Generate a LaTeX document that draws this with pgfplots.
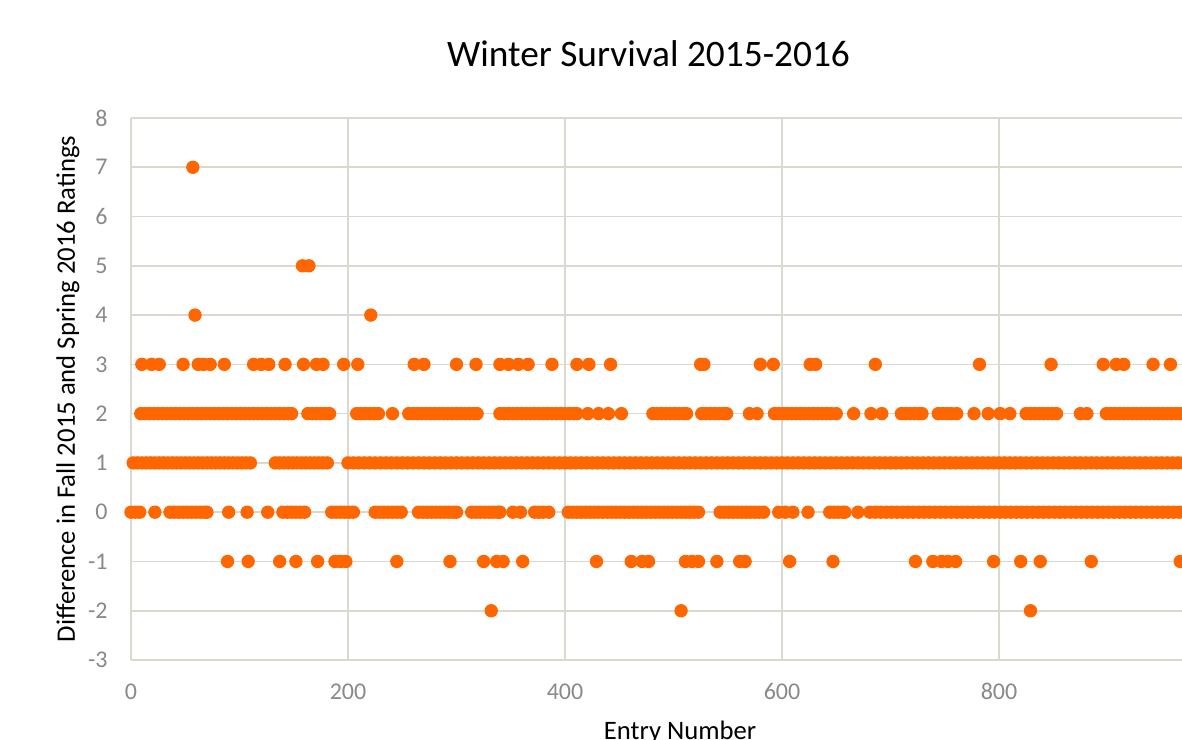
\documentclass[border=0pt]{standalone}
\usepackage{pgfplots}
\pgfplotsset{compat=1.18}
\usepackage{fontspec}
\setmainfont{Carlito}
\definecolor{dot}{RGB}{255,102,0}
\definecolor{gridc}{RGB}{217,217,207}
\definecolor{tickc}{RGB}{137,137,137}
\pgfplotsset{dotstyle/.style={draw=dot, fill=dot, only marks, mark=*, mark size=2.3pt}}
\begin{document}
\begin{tikzpicture}
\begin{axis}[
  at={(0,0)}, anchor=south west,
  scale only axis, width=394.125pt, height=203.25pt,
  xmin=0, xmax=968.66, ymin=-3, ymax=8,
  xtick={0,200,400,600,800}, xticklabels={0,200,400,600,800},
  ytick={-3,-2,-1,0,1,2,3,4,5,6,7,8}, yticklabels={-3,-2,-1,0,1,2,3,4,5,6,7,8},
  major tick length=0pt,
  axis line style={draw=none},
  grid=major, major grid style={draw=gridc, line width=0.6pt},
  ticklabel style={font=\fontsize{9}{11}\selectfont, text=tickc, inner sep=0pt},
  xticklabel style={anchor=north, yshift=-8.6pt},
  yticklabel style={anchor=east, xshift=-8.6pt},
  title={Winter Survival 2015-2016},
  title style={at={(axis description cs:0.4924,1.0664)}, anchor=base, font=\fontsize{14}{17}\selectfont, inner sep=0pt},
  xlabel={Entry Number},
  xlabel style={at={(axis description cs:0.5224,-0.1466)}, anchor=base, font=\fontsize{10}{12}\selectfont, inner sep=0pt},
  ylabel={Difference in Fall 2015 and Spring 2016 Ratings},
  ylabel style={at={(axis description cs:-0.0533,0.5)}, anchor=base, rotate=0, font=\fontsize{10}{12}\selectfont, inner sep=0pt},
  clip=false,
]
% y = 7, 5, 4
\addplot[dotstyle] coordinates {(57,7)(158,5)(164,5)(59,4)(221,4)};
% y = 3
\addplot[dotstyle] coordinates {(10,3)(19,3)(26,3)(48,3)(62,3)(67,3)(73,3)(86,3)(113,3)(120,3)(127,3)(142,3)(159,3)(171,3)(177,3)(196,3)(209,3)(261,3)(270,3)(300,3)(318,3)(340,3)(348,3)(357,3)(366,3)(388,3)(411,3)(422,3)(442,3)(525,3)(528,3)(580,3)(592,3)(626,3)(631,3)(686,3)(782,3)(848,3)(896,3)(908,3)(915,3)(942,3)(958,3)};
% y = 2
\addplot[dotstyle] coordinates {(9,2)(13,2)(17,2)(21,2)(25,2)(29,2)(33,2)(37,2)(41,2)(45,2)(49,2)(53,2)(57,2)(61,2)(65,2)(69,2)(73,2)(77,2)(81,2)(85,2)(89,2)(93,2)(97,2)(101,2)(105,2)(109,2)(113,2)(117,2)(121,2)(125,2)(129,2)(133,2)(137,2)(141,2)(145,2)(148,2)
(163,2)(167,2)(171,2)(175,2)(179,2)(183,2)
(208,2)(212,2)(216,2)(220,2)(224,2)(228,2)(241,2)
(256,2)(260,2)(264,2)(268,2)(272,2)(276,2)(280,2)(284,2)(288,2)(292,2)(296,2)(300,2)(304,2)(308,2)(312,2)(316,2)(319,2)
(340,2)(344,2)(348,2)(352,2)(356,2)(360,2)(364,2)(368,2)(372,2)(376,2)(380,2)(384,2)(388,2)(392,2)(396,2)(400,2)(404,2)(408,2)(411,2)
(421,2)(431,2)(440,2)(452,2)
(481,2)(485,2)(489,2)(493,2)(497,2)(501,2)(505,2)(509,2)(512,2)
(526,2)(530,2)(534,2)(538,2)(542,2)(546,2)(549,2)(570,2)(577,2)
(593,2)(597,2)(601,2)(605,2)(609,2)(613,2)(617,2)(621,2)(625,2)(629,2)(633,2)(637,2)(641,2)(645,2)(650,2)
(666,2)(682,2)(692,2)
(710,2)(714,2)(718,2)(722,2)(726,2)(729,2)
(744,2)(748,2)(752,2)(756,2)(761,2)
(777,2)(790,2)(801,2)(810,2)
(825,2)(829,2)(833,2)(837,2)(841,2)(845,2)(849,2)(853,2)(875,2)(881,2)
(899,2)(903,2)(907,2)(911,2)(915,2)(919,2)(923,2)(927,2)(931,2)(935,2)(939,2)(943,2)(947,2)(951,2)(955,2)(959,2)(963,2)(967,2)(971,2)};
% y = 1
\addplot[dotstyle] coordinates {(2,1)(6,1)(10,1)(14,1)(18,1)(22,1)(26,1)(30,1)(34,1)(38,1)(42,1)(46,1)(50,1)(54,1)(58,1)(62,1)(66,1)(70,1)(74,1)(78,1)(82,1)(86,1)(90,1)(94,1)(98,1)(102,1)(106,1)(110,1)
(133,1)(137,1)(141,1)(145,1)(149,1)(153,1)(157,1)(161,1)(165,1)(169,1)(173,1)(177,1)(181,1)
(200,1)(205,1)(210,1)(215,1)(220,1)(225,1)(230,1)(235,1)(240,1)(245,1)(250,1)(255,1)(260,1)(265,1)(270,1)(275,1)(280,1)(285,1)(290,1)(295,1)
(300,1)(305,1)(310,1)(315,1)(320,1)(325,1)(330,1)(335,1)(340,1)(345,1)(350,1)(355,1)(360,1)(365,1)(370,1)(375,1)(380,1)(385,1)(390,1)(395,1)
(400,1)(405,1)(410,1)(415,1)(420,1)(425,1)(430,1)(435,1)(440,1)(445,1)(450,1)(455,1)(460,1)(465,1)(470,1)(475,1)(480,1)(485,1)(490,1)(495,1)
(500,1)(505,1)(510,1)(515,1)(520,1)(525,1)(530,1)(535,1)(540,1)(545,1)(550,1)(555,1)(560,1)(565,1)(570,1)(575,1)(580,1)(585,1)(590,1)(595,1)
(600,1)(605,1)(610,1)(615,1)(620,1)(625,1)(630,1)(635,1)(640,1)(645,1)(650,1)(655,1)(660,1)(665,1)(670,1)(675,1)(680,1)(685,1)(690,1)(695,1)
(700,1)(705,1)(710,1)(715,1)(720,1)(725,1)(730,1)(735,1)(740,1)(745,1)(750,1)(755,1)(760,1)(765,1)(770,1)(775,1)(780,1)(785,1)(790,1)(795,1)
(800,1)(805,1)(810,1)(815,1)(820,1)(825,1)(830,1)(835,1)(840,1)(845,1)(850,1)(855,1)(860,1)(865,1)(870,1)(875,1)(880,1)(885,1)(890,1)(895,1)
(900,1)(905,1)(910,1)(915,1)(920,1)(925,1)(930,1)(935,1)(940,1)(945,1)(950,1)(955,1)(960,1)(965,1)(970,1)};
% y = 0
\addplot[dotstyle] coordinates {(0,0)(4,0)(8,0)(22,0)(36,0)(40,0)(44,0)(48,0)(52,0)(56,0)(60,0)(64,0)(68,0)(70,0)(90,0)(107,0)(126,0)
(140,0)(144,0)(148,0)(152,0)(156,0)(160,0)(185,0)(189,0)(193,0)(197,0)(201,0)(205,0)
(225,0)(229,0)(233,0)(237,0)(241,0)(245,0)(249,0)
(265,0)(269,0)(273,0)(277,0)(281,0)(285,0)(289,0)(293,0)(297,0)(300,0)
(314,0)(318,0)(322,0)(326,0)(330,0)(334,0)(338,0)(340,0)(352,0)(359,0)(372,0)(376,0)(380,0)(385,0)
(403,0)(407,0)(411,0)(415,0)(419,0)(423,0)(427,0)(431,0)(435,0)(439,0)(443,0)(447,0)(451,0)(455,0)(459,0)(463,0)(467,0)(471,0)(475,0)(479,0)(483,0)(487,0)(491,0)(495,0)(499,0)(503,0)(507,0)(511,0)(515,0)(519,0)(523,0)
(543,0)(547,0)(551,0)(555,0)(559,0)(563,0)(567,0)(571,0)(575,0)(579,0)(583,0)
(597,0)(603,0)(610,0)(624,0)(644,0)(648,0)(652,0)(656,0)(658,0)(670,0)
(681,0)(686,0)(691,0)(696,0)(701,0)(706,0)(711,0)(716,0)(721,0)(726,0)(731,0)(736,0)(741,0)(746,0)(751,0)(756,0)(761,0)(766,0)(771,0)(776,0)
(781,0)(786,0)(791,0)(796,0)(801,0)(806,0)(811,0)(816,0)(821,0)(826,0)(831,0)(836,0)(841,0)(846,0)(851,0)(856,0)(861,0)(866,0)(871,0)(876,0)
(881,0)(886,0)(891,0)(896,0)(901,0)(906,0)(911,0)(916,0)(921,0)(926,0)(931,0)(936,0)(941,0)(946,0)(951,0)(956,0)(961,0)(966,0)(971,0)};
% y = -1
\addplot[dotstyle] coordinates {(89,-1)(108,-1)(137,-1)(152,-1)(172,-1)(188,-1)(193,-1)(198,-1)(245,-1)(294,-1)(325,-1)(337,-1)(343,-1)(361,-1)(429,-1)(461,-1)(471,-1)(477,-1)(511,-1)(517,-1)(523,-1)(540,-1)(561,-1)(566,-1)(607,-1)(647,-1)(723,-1)(739,-1)(747,-1)(753,-1)(760,-1)(795,-1)(820,-1)(838,-1)(885,-1)(967,-1)};
% y = -2
\addplot[dotstyle] coordinates {(332,-2)(507,-2)(829,-2)};
\end{axis}
\pgfresetboundingbox
\path[use as bounding box] (-49.125pt,-29.625pt) rectangle (394.125pt,247.5pt);
\end{tikzpicture}
\end{document}
